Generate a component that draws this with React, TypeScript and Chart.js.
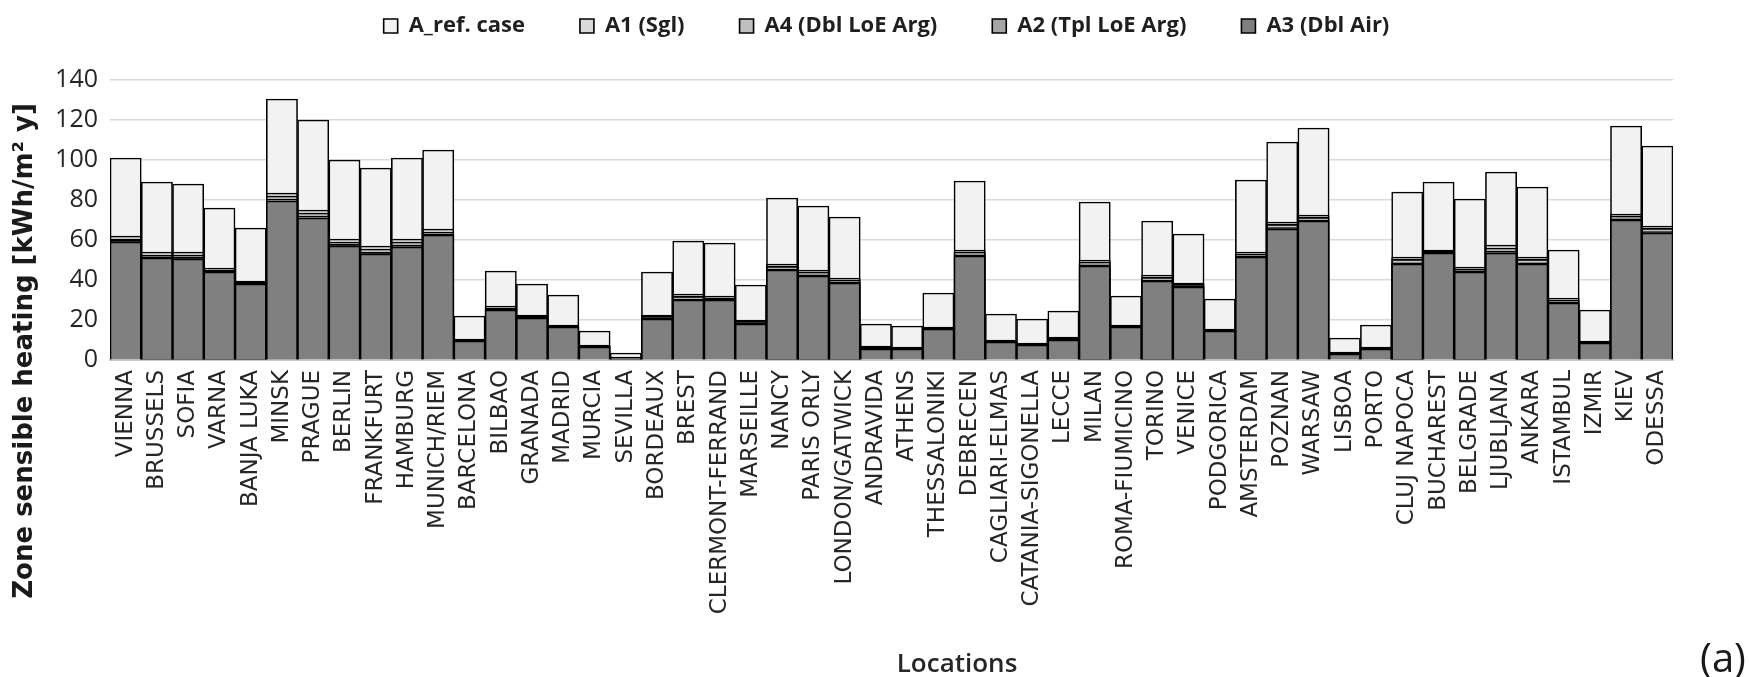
import React, { useEffect, useRef } from "react";
import { Chart, registerables } from "chart.js";

Chart.register(...registerables);

const categories = [
  "VIENNA", "BRUSSELS", "SOFIA", "VARNA", "BANJA LUKA", "MINSK", "PRAGUE", "BERLIN", "FRANKFURT", "HAMBURG",
  "MUNICH/RIEM", "BARCELONA", "BILBAO", "GRANADA", "MADRID", "MURCIA", "SEVILLA", "BORDEAUX", "BREST", "CLERMONT-FERRAND",
  "MARSEILLE", "NANCY", "PARIS ORLY", "LONDON/GATWICK", "ANDRAVIDA", "ATHENS", "THESSALONIKI", "DEBRECEN", "CAGLIARI-ELMAS", "CATANIA-SIGONELLA",
  "LECCE", "MILAN", "ROMA-FIUMICINO", "TORINO", "VENICE", "PODGORICA", "AMSTERDAM", "POZNAN", "WARSAW", "LISBOA",
  "PORTO", "CLUJ NAPOCA", "BUCHAREST", "BELGRADE", "LJUBLJANA", "ANKARA", "ISTAMBUL", "IZMIR", "KIEV", "ODESSA",
];

const seriesNames = ["A_ref. case", "A1 (Sgl)", "A4 (Dbl LoE Arg)", "A2 (Tpl LoE Arg)", "A3 (Dbl Air)"];

const aRef = [
  101, 89, 88, 76, 66, 130.5, 120, 100, 96, 101,
  105, 22, 44.5, 38, 32.5, 14.5, 3.5, 44, 59.5, 58.5,
  37.5, 81, 77, 71.5, 18, 17, 33.5, 89.5, 23, 20.5,
  24.5, 79, 32, 69.5, 63, 30.5, 90, 109, 116, 11,
  17.5, 84, 89, 80.5, 94, 86.5, 55, 25, 117, 107,
];
const a1 = [
  62, 54, 54, 46, 39.5, 83.5, 75, 60.5, 57, 60.5,
  65.5, 10.5, 27, 22.5, 17.5, 7.5, 1.5, 22.5, 33, 32,
  20, 48, 45, 41, 7, 6.5, 16.5, 55, 10, 8.5,
  11.5, 50, 17.5, 42.5, 38.5, 15.5, 54, 69, 72.5, 4,
  6.5, 51.5, 55, 46.5, 57.5, 51.5, 31, 9.5, 73, 67,
];
const a4 = [
  60.5, 52.5, 52.5, 45, 39, 82, 73.5, 59, 55.5, 59,
  64, 10, 26, 22, 17, 7, 1.3, 21.8, 31.8, 31,
  19.3, 46.8, 44, 40, 6.5, 6, 16, 54, 9.5, 8,
  11, 49, 17, 41.3, 37.8, 15, 53, 67.8, 71.3, 3.6,
  6, 50.3, 54.5, 45.5, 56, 50.3, 30, 9, 72, 65.8,
];
const a2 = [
  59.8, 51.6, 51.3, 44.4, 38.5, 80.5, 72, 57.8, 53.8, 57.4,
  63, 9.8, 25.5, 21.5, 16.8, 6.8, 1.1, 21, 30.5, 30.4,
  18.5, 45.5, 42.6, 39, 6, 5.8, 15.8, 52.6, 9.2, 7.8,
  10.5, 47.6, 16.8, 40, 37, 14.8, 52, 66.2, 70, 3.3,
  5.8, 48.6, 54, 44.6, 54.4, 48.6, 29, 8.8, 70.6, 64.2,
];
const a3 = [
  59, 51, 50.5, 44, 38, 79.5, 71, 57, 53, 56.5,
  62.5, 9.5, 25, 21, 16.5, 6.5, 1, 20.5, 30, 30,
  18, 45, 42, 38.5, 5.5, 5.5, 15.5, 52, 9, 7.5,
  10, 47, 16.5, 39.5, 36.5, 14.5, 51.5, 65.5, 69.5, 3,
  5.5, 48, 53.5, 44, 53.5, 48, 28.5, 8.5, 70, 63.5,
];

const seriesValues = [aRef, a1, a4, a2, a3];
const seriesFills = ["#f2f2f2", "#d9d9d9", "#bfbfbf", "#a6a6a6", "#808080"];

const yMin = 0;
const yMax = 140;
const yStep = 20;

const yTitle = "Zone sensible heating [kWh/m\u00B2 y]";
const xTitle = "Locations";
const panelLabel = "(a)";

const extraTextPlugin = {
  id: "extraText",
  afterDraw(chart: any) {
    const ctx = chart.ctx as CanvasRenderingContext2D;
    ctx.save();
    ctx.fillStyle = "#1a1a1a";
    ctx.textAlign = "center";
    ctx.textBaseline = "middle";
    // y axis title
    ctx.save();
    ctx.translate(25, 351);
    ctx.rotate(-Math.PI / 2);
    ctx.font = "bold 26px 'DejaVu Sans'";
    ctx.fillText(yTitle, 0, 0);
    ctx.restore();
    // x axis title
    ctx.font = "600 26px 'Open Sans'";
    ctx.fillStyle = "#262626";
    ctx.fillText(xTitle, 957, 665);
    // panel label
    ctx.font = "40px 'Open Sans'";
    ctx.fillStyle = "#1a1a1a";
    ctx.fillText(panelLabel, 1723, 661);
    ctx.restore();
  },
};

export default function App() {
  const canvasRef = useRef<HTMLCanvasElement | null>(null);

  useEffect(() => {
    const canvas = canvasRef.current;
    if (!canvas) return;
    const datasets = seriesNames.map((name, i) => ({
      label: name,
      data: seriesValues[i],
      backgroundColor: seriesFills[i],
      borderColor: "#000000",
      borderWidth: 1.6,
      order: seriesNames.length - 1 - i,
      grouped: false,
      barPercentage: 1,
      categoryPercentage: 1,
    }));

    const chart = new Chart(canvas, {
      type: "bar",
      data: { labels: categories, datasets },
      plugins: [extraTextPlugin],
      options: {
        responsive: false,
        animation: false,
        devicePixelRatio: 1,
        layout: { padding: { top: -40, left: 24, right: 0, bottom: 0 } },
        plugins: {
          tooltip: { enabled: false },
          legend: {
            position: "top",
            align: "center",
            labels: {
              boxWidth: 14,
              boxHeight: 14,
              padding: 55,
              color: "#1f1f1f",
              font: { family: "'Open Sans'", size: 22, weight: "bold" },
              sort: (a: any, b: any) => a.datasetIndex - b.datasetIndex,
            },
          },
        },
        scales: {
          x: {
            type: "category",
            position: "bottom",
            grid: { display: false, drawTicks: false },
            border: { display: true, color: "#c8c8c8", width: 2 },
            ticks: {
              autoSkip: false,
              minRotation: 90,
              maxRotation: 90,
              padding: 10,
              color: "#262626",
              font: { family: "'DejaVu Sans'", size: 23 },
            },
            afterFit: (s: any) => {
              s.height = 317;
            },
          },
          xTop: {
            type: "category",
            position: "top",
            display: true,
            grid: { display: false, drawTicks: false },
            border: { display: false },
            ticks: { display: false },
            afterFit: (s: any) => {
              s.height = 33;
            },
          },
          y: {
            type: "linear",
            min: yMin,
            max: yMax,
            grid: { color: "#d9d9d9", lineWidth: 1.6, drawTicks: false },
            border: { display: false },
            ticks: {
              stepSize: yStep,
              padding: 12,
              color: "#262626",
              font: { family: "'Open Sans'", size: 25 },
            },
            afterFit: (s: any) => {
              s.width = 86;
            },
          },
          yRight: {
            type: "linear",
            position: "right",
            display: true,
            grid: { display: false, drawTicks: false },
            border: { display: false },
            ticks: { display: false },
            afterFit: (s: any) => {
              s.width = 76;
            },
          },
        },
      } as any,
    });
    return () => chart.destroy();
  }, []);

  return (
    <div style={{ position: "absolute", left: 0, top: 0, width: 1749, height: 677, background: "#ffffff" }}>
      <canvas ref={canvasRef} width={1749} height={677} style={{ display: "block", width: "1749px", height: "677px" }} />
    </div>
  );
}
